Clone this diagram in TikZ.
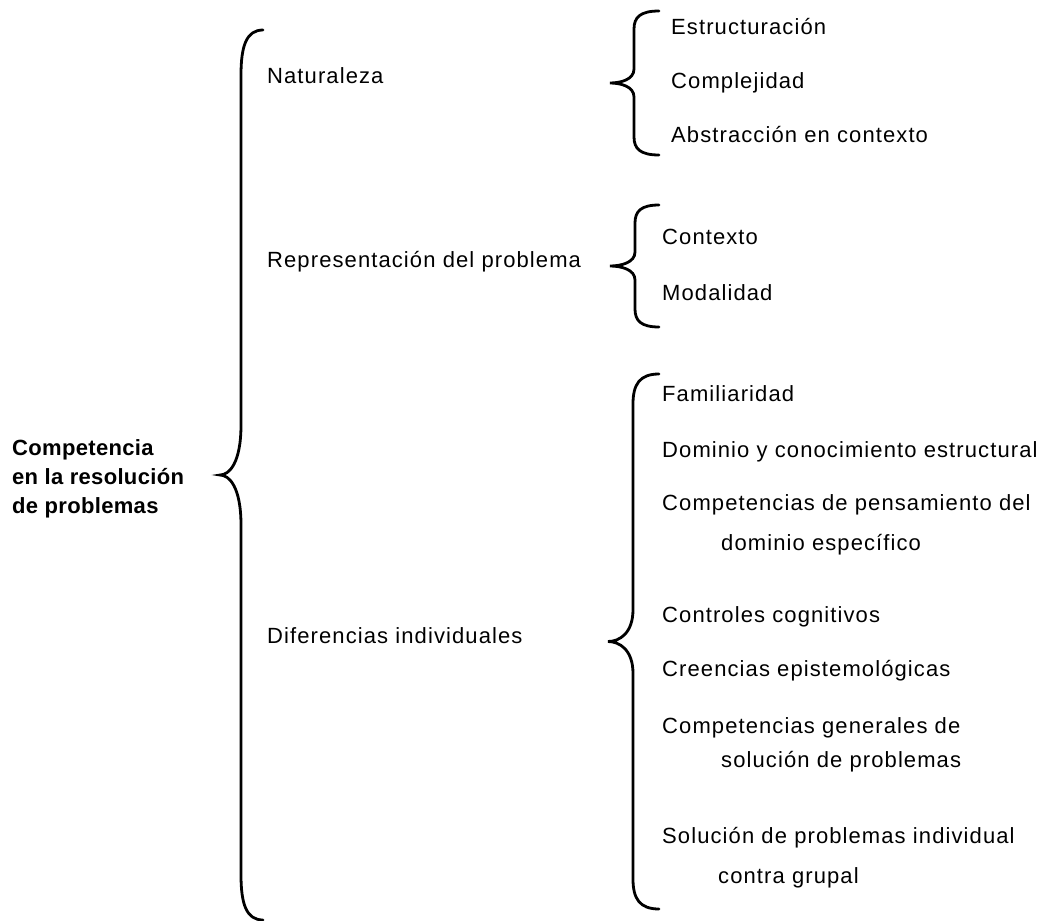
\documentclass[tikz,border=0pt]{standalone}
\usepackage{fontspec}
\setmainfont{Liberation Sans}[LetterSpace=5, BoldFeatures={LetterSpace=1.5}]
\tikzset{
  item/.style={anchor=base west, inner sep=0pt, font=\fontsize{22}{29}\selectfont},
  title/.style={anchor=base west, inner sep=0pt, align=left, font=\fontsize{22}{29}\selectfont\bfseries},
  brace/.style={draw=black, line width=2.8pt, line cap=round}
}
% curly brace opening to the right:
% #1 stem x, #2 end x, #3 tip x, #4 top y, #5 bottom y, #6 end curl height, #7 half height of the middle bend
\newcommand{\curlybrace}[7]{%
  \draw[brace] (#2,#4) .. controls ({#1+0.25*(#2-#1)},#4) and (#1,{#4+0.35*#6}) .. (#1,{#4+#6})
    -- (#1,{(#4+#5)/2-#7})
    .. controls (#1,{(#4+#5)/2-0.25*#7}) and ({#3+0.45*(#1-#3)},{(#4+#5)/2}) .. (#3,{(#4+#5)/2})
    .. controls ({#3+0.45*(#1-#3)},{(#4+#5)/2}) and (#1,{(#4+#5)/2+0.25*#7}) .. (#1,{(#4+#5)/2+#7})
    -- (#1,{#5-#6})
    .. controls (#1,{#5-0.35*#6}) and ({#1+0.25*(#2-#1)},#5) .. (#2,#5);}
\begin{document}
\begin{tikzpicture}[x=1pt, y=-1pt]
  \useasboundingbox (0,0) rectangle (1047,921);

  % root (base anchor sits on the last line)
  \node[title] (root) at (12,513) {Competencia\\en la resolución\\de problemas};
  \curlybrace{241}{263}{220}{30}{920}{45}{50}

  % first level
  \node[item] (nat) at (267,83) {Naturaleza};
  \node[item] (rep) at (267,267) {Representación del problema};
  \node[item] (dif) at (267,643) {Diferencias individuales};

  % Naturaleza
  \curlybrace{634}{659}{610}{11}{155}{18}{14}
  \node[item] (est) at (671,34) {Estructuración};
  \node[item] (com) at (671,88) {Complejidad};
  \node[item] (abs) at (671,142) {Abstracción en contexto};

  % Representación del problema
  \curlybrace{635}{659}{610}{205}{327}{18}{14}
  \node[item] (ctx) at (662,244) {Contexto};
  \node[item] (mod) at (662,300) {Modalidad};

  % Diferencias individuales
  \curlybrace{633}{659}{608}{374}{909}{30}{32}
  \node[item] (fam) at (662,401) {Familiaridad};
  \node[item] (dom) at (662,457) {Dominio y conocimiento estructural};
  \node[item] (cpd) at (662,510) {Competencias de pensamiento del};
  \node[item] (cpd2) at (721,550) {dominio específico};
  \node[item] (ctl) at (662,622) {Controles cognitivos};
  \node[item] (cre) at (662,676) {Creencias epistemológicas};
  \node[item] (cgs) at (662,733) {Competencias generales de};
  \node[item] (cgs2) at (721,767) {solución de problemas};
  \node[item] (sol) at (662,843) {Solución de problemas individual};
  \node[item] (sol2) at (718,883) {contra grupal};
\end{tikzpicture}
\end{document}
